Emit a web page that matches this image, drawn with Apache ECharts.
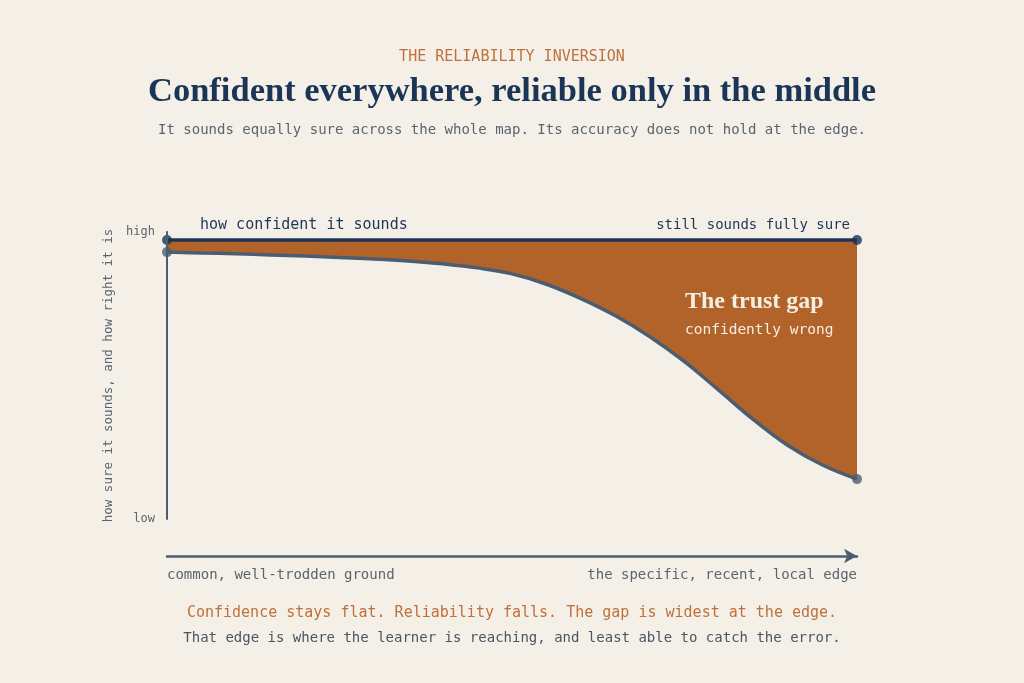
<!DOCTYPE html>
<html>
<head>
<meta charset="utf-8">
<title>The reliability inversion</title>
<script src="https://cdn.jsdelivr.net/npm/echarts@6/dist/echarts.min.js"></script>
<style>
  html, body { margin: 0; padding: 0; background: #f4f0e7; }
  #main { width: 1024px; height: 683px; }
</style>
</head>
<body>
<div id="main"></div>
<script>
// position along the map: 0 = common ground, 100 = the edge
const xs = [0, 5, 10, 15, 20, 25, 30, 35, 40, 45, 50, 55, 60, 65, 70, 75, 80, 85, 90, 95, 100];
// how confident it sounds (flat)
const confidence = [97.2, 97.2, 97.2, 97.2, 97.2, 97.2, 97.2, 97.2, 97.2, 97.2, 97.2,
                    97.2, 97.2, 97.2, 97.2, 97.2, 97.2, 97.2, 97.2, 97.2, 97.2];
// how reliable it actually is
const reliability = [93.0, 92.7, 92.4, 92.0, 91.6, 91.1, 90.6, 89.9, 88.9, 87.5, 85.4,
                     81.8, 76.8, 70.8, 63.5, 54.8, 44.8, 34.6, 25.6, 18.8, 13.9];

const xLabels = {0: 'common, well-trodden ground', 100: 'the specific, recent, local edge'};
const yLabels = {0: 'low', 100: 'high'};

const MONO = '"DejaVu Sans Mono", monospace';
const SERIF = '"Liberation Serif", serif';
const BG = '#f4f0e7';
const NAVY = '#1b3557';
const SLATE = '#4b5d70';
const ORANGE = '#b1632a';
const GREY = '#5a6470';

let relData = xs.map((x, i) => [x, reliability[i]]);
let confData = xs.map((x, i) => [x, confidence[i]]);
let last = xs.length - 1;

let myChart = echarts.init(document.getElementById('main'));

let option = {
    backgroundColor: BG,
    animation: false,
    title: [
        {
            text: 'THE RELIABILITY INVERSION',
            left: 'center', top: 45,
            textStyle: {fontFamily: MONO, fontSize: 15, fontWeight: 'normal', color: '#c0703a'}
        },
        {
            text: 'Confident everywhere, reliable only in the middle',
            left: 'center', top: 70,
            textStyle: {fontFamily: SERIF, fontSize: 34.5, fontWeight: 'bold', color: NAVY}
        },
        {
            text: 'It sounds equally sure across the whole map. Its accuracy does not hold at the edge.',
            left: 'center', top: 118,
            textStyle: {fontFamily: MONO, fontSize: 14, fontWeight: 'normal', color: GREY}
        },
        {
            text: 'Confidence stays flat. Reliability falls. The gap is widest at the edge.',
            left: 'center', top: 601,
            textStyle: {fontFamily: MONO, fontSize: 15, fontWeight: 'normal', color: '#c0703a'}
        },
        {
            text: 'That edge is where the learner is reaching, and least able to catch the error.',
            left: 'center', top: 626,
            textStyle: {fontFamily: MONO, fontSize: 14, fontWeight: 'normal', color: '#4a5563'}
        }
    ],
    grid: {left: 167, right: 167, top: 232, bottom: 164},
    xAxis: {
        type: 'value',
        min: 0,
        max: 100,
        offset: 37,
        axisLine: {
            show: true,
            onZero: false,
            symbol: ['none', 'arrow'],
            symbolSize: [11, 13],
            lineStyle: {color: SLATE, width: 2.5}
        },
        axisTick: {show: false},
        splitLine: {show: false},
        axisLabel: {
            customValues: [0, 100],
            formatter: v => xLabels[v] || '',
            alignMinLabel: 'left',
            alignMaxLabel: 'right',
            margin: 12,
            fontFamily: MONO,
            fontSize: 14,
            color: GREY
        }
    },
    yAxis: {
        type: 'value',
        min: 0,
        max: 100,
        z: 10,
        name: 'how sure it sounds, and how right it is',
        nameLocation: 'middle',
        nameRotate: 90,
        nameGap: 52,
        nameTextStyle: {fontFamily: MONO, fontSize: 12.5, color: GREY},
        axisLine: {show: true, lineStyle: {color: SLATE, width: 2}},
        axisTick: {show: false},
        splitLine: {show: false},
        axisLabel: {
            customValues: [0, 100],
            formatter: v => yLabels[v] || '',
            margin: 12,
            fontFamily: MONO,
            fontSize: 12,
            color: GREY
        }
    },
    series: [
        {
            // orange under the confidence line, the reliability area covers what is below it
            name: 'trust gap',
            type: 'line',
            data: confData,
            showSymbol: false,
            lineStyle: {width: 0},
            areaStyle: {color: ORANGE, opacity: 1, origin: 'start'},
            z: 2
        },
        {
            name: 'reliability',
            type: 'line',
            smooth: 0.4,
            data: relData,
            showSymbol: false,
            lineStyle: {color: SLATE, width: 3.5},
            areaStyle: {color: BG, opacity: 1, origin: 'start'},
            z: 3
        },
        {
            name: 'confidence',
            type: 'line',
            data: confData,
            showSymbol: false,
            lineStyle: {color: NAVY, width: 3.5},
            z: 5
        },
        {
            type: 'scatter',
            clip: false,
            symbolSize: 10,
            itemStyle: {color: NAVY},
            data: [confData[0], confData[last]],
            z: 6
        },
        {
            type: 'scatter',
            clip: false,
            symbolSize: 10,
            itemStyle: {color: SLATE},
            data: [relData[0], relData[last]],
            z: 6
        }
    ],
    graphic: [
        {type: 'text', left: 200, top: 218,
         style: {text: 'how confident it sounds', font: '15px ' + MONO, fill: NAVY}},
        {type: 'text', left: 200, top: 278,
         style: {text: 'how reliable it actually is', font: '15px ' + MONO, fill: '#55606b'}},
        {type: 'text', right: 174, top: 218,
         style: {text: 'still sounds fully sure', font: '14px ' + MONO, fill: NAVY}},
        {type: 'text', right: 174, top: 491,
         style: {text: 'far less reliable now', font: '14px ' + MONO, fill: '#55606b'}},
        {type: 'text', left: 685, top: 290, z: 10,
         style: {text: 'The trust gap', font: 'bold 24px ' + SERIF, fill: '#f5eee2'}},
        {type: 'text', left: 685, top: 323, z: 10,
         style: {text: 'confidently wrong', font: '14.5px ' + MONO, fill: '#f5eee2'}}
    ]
};

myChart.setOption(option);
</script>
</body>
</html>
